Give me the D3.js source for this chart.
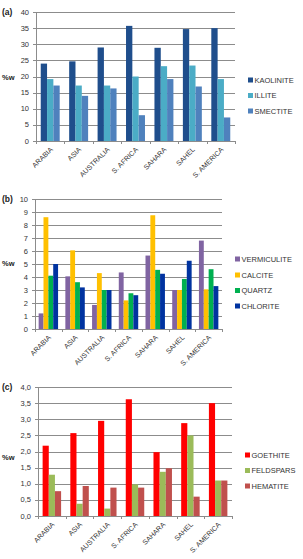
<!DOCTYPE html>
<html>
<head>
<meta charset="utf-8">
<script src="https://cdn.jsdelivr.net/npm/d3@7"></script>
<style>
  body { margin: 0; background: #fff; }
  svg { display: block; font-family: "Liberation Sans", Arial, sans-serif; }
</style>
</head>
<body>
<svg id="chart" width="303" height="559"></svg>
<script>
const regions = ['ARABIA', 'ASIA', 'AUSTRALIA', 'S. AFRICA', 'SAHARA', 'SAHEL', 'S. AMERICA'];

// panel (a) clays
const kaolinite = [24.0, 24.7, 29.0, 35.7, 28.9, 34.7, 35.0];
const illite = [19.2, 17.2, 17.2, 20.0, 23.2, 23.4, 19.2];
const smectite = [17.2, 14.0, 16.3, 8.0, 19.2, 16.9, 7.3];

// panel (b)
const vermiculite = [1.2, 4.05, 1.85, 4.35, 5.65, 3.0, 6.8];
const calcite = [8.6, 6.05, 4.3, 2.2, 8.75, 3.0, 3.05];
const quartz = [4.1, 3.6, 3.0, 2.75, 4.55, 3.85, 4.6];
const chlorite = [5.0, 3.2, 3.0, 2.6, 4.25, 5.25, 3.3];

// panel (c)
const goethite = [2.18, 2.57, 2.95, 3.62, 1.98, 2.88, 3.5];
const feldspars = [1.28, 0.38, 0.23, 0.98, 1.37, 2.5, 1.1];
const hematite = [0.77, 0.93, 0.88, 0.88, 1.48, 0.6, 1.1];

const ticksA = [0, 5, 10, 15, 20, 25, 30, 35, 40];
const ticksB = [0, 1, 2, 3, 4, 5, 6, 7, 8, 9, 10];
const ticksC = [0, 0.5, 1, 1.5, 2, 2.5, 3, 3.5, 4];

const svg = d3.select('#chart');

function drawPanel(p) {
  const g = svg.append('g');
  const y = d3.scaleLinear().domain([0, d3.max(p.ticks)]).range([p.bottom, p.top]);
  const x0 = d3.scaleBand().domain(regions).range([p.left, p.right]);
  const n = p.series.length;
  const bw = x0.bandwidth() / (n + p.gap);
  const x1 = d3.scaleBand().domain(d3.range(n)).range([0, bw * n]);
  const off = (x0.bandwidth() - bw * n) / 2;

  // gridlines
  g.selectAll('line.grid').data(p.ticks).join('line')
    .attr('x1', p.left - 3).attr('x2', p.right)
    .attr('y1', d => Math.round(y(d)) + 0.5).attr('y2', d => Math.round(y(d)) + 0.5)
    .attr('stroke', '#8c8c8c').attr('stroke-width', 1);

  // y axis line
  g.append('line')
    .attr('x1', p.left + 0.5).attr('x2', p.left + 0.5)
    .attr('y1', p.top).attr('y2', p.bottom + 3)
    .attr('stroke', '#8c8c8c');

  // category tick marks
  g.selectAll('line.ct').data(regions.slice(1).concat(['_end'])).join('line')
    .attr('x1', (d, i) => Math.round(p.left + x0.bandwidth() * (i + 1)) + 0.5)
    .attr('x2', (d, i) => Math.round(p.left + x0.bandwidth() * (i + 1)) + 0.5)
    .attr('y1', p.bottom).attr('y2', p.bottom + 3)
    .attr('stroke', '#8c8c8c');

  // tick labels
  g.selectAll('text.yt').data(p.ticks).join('text')
    .attr('x', p.left - 7).attr('y', d => y(d) + 2.5)
    .attr('text-anchor', 'end')
    .attr('font-size', 7.5).attr('fill', '#333')
    .text(p.fmt);

  // bars
  p.series.forEach((s, si) => {
    g.selectAll('rect.s' + si).data(s.values).join('rect')
      .attr('x', (d, i) => x0(regions[i]) + off + x1(si))
      .attr('width', x1.bandwidth())
      .attr('y', d => y(d))
      .attr('height', d => p.bottom - y(d))
      .attr('fill', s.color);
  });

  // category labels
  g.selectAll('text.cat').data(regions).join('text')
    .attr('transform', d => `translate(${x0(d) + x0.bandwidth() / 2 + 3},${p.bottom + 9}) rotate(-45)`)
    .attr('text-anchor', 'end')
    .attr('font-size', 7).attr('fill', '#333')
    .text(d => d);

  // legend
  p.series.forEach((s, si) => {
    const ly = p.legendY[si];
    g.append('rect').attr('x', p.legendX).attr('y', ly - 2.5).attr('width', 5).attr('height', 5).attr('fill', s.color);
    g.append('text').attr('x', p.legendX + 6.5).attr('y', ly + 2.7)
      .attr('font-size', 7.5).attr('fill', '#333').text(s.name);
  });

  // panel letter and unit
  g.append('text').attr('x', 2).attr('y', p.top + 3).attr('font-size', 8.5).attr('font-weight', 'bold').attr('fill', '#222').text(p.letter);
  g.append('text').attr('x', 2).attr('y', p.unitY).attr('font-size', 7.5).attr('font-weight', 'bold').attr('fill', '#222').text('%w');
}

drawPanel({
  letter: '(a)', top: 12, bottom: 141, left: 36, right: 235, gap: 1.5,
  ticks: ticksA, fmt: d => d, unitY: 80,
  legendX: 248, legendY: [80, 95.5, 111],
  series: [
    { name: 'KAOLINITE', values: kaolinite, color: '#1f4e8c' },
    { name: 'ILLITE', values: illite, color: '#4bacc6' },
    { name: 'SMECTITE', values: smectite, color: '#4f81bd' }
  ]
});

drawPanel({
  letter: '(b)', top: 199, bottom: 329, left: 35, right: 222, gap: 1.5,
  ticks: ticksB, fmt: d => d, unitY: 266,
  legendX: 235, legendY: [259, 275, 290.5, 306],
  series: [
    { name: 'VERMICULITE', values: vermiculite, color: '#8064a2' },
    { name: 'CALCITE', values: calcite, color: '#ffc000' },
    { name: 'QUARTZ', values: quartz, color: '#00b050' },
    { name: 'CHLORITE', values: chlorite, color: '#0033a0' }
  ]
});

drawPanel({
  letter: '(c)', top: 387, bottom: 516, left: 38, right: 232, gap: 1.5,
  ticks: ticksC, fmt: d => d3.format('.1f')(d).replace('.', ','), unitY: 460,
  legendX: 245, legendY: [455, 470.5, 486],
  series: [
    { name: 'GOETHITE', values: goethite, color: '#ff0000' },
    { name: 'FELDSPARS', values: feldspars, color: '#9bbb59' },
    { name: 'HEMATITE', values: hematite, color: '#c0504d' }
  ]
});
</script>
</body>
</html>
